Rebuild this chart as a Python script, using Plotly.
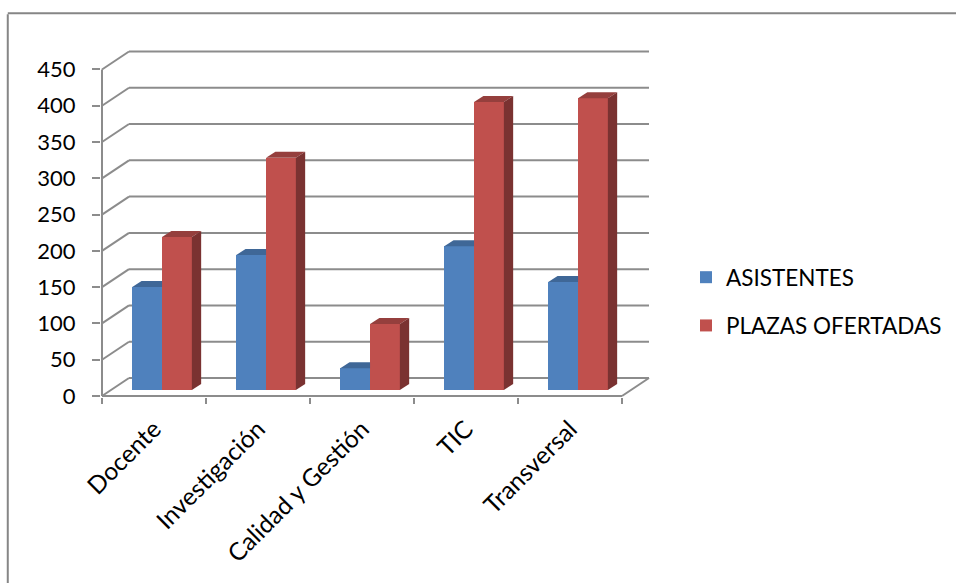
import plotly.graph_objects as go

categories = ["Docente", "Investigación", "Calidad y Gestión", "TIC", "Transversal"]
asistentes = [142, 186, 30, 198, 149]
plazas = [211, 320, 91, 397, 402]
y_ticks = [0, 50, 100, 150, 200, 250, 300, 350, 400, 450]

BLUE, BLUE_TOP = "#4F81BD", "#3F6797"
RED, RED_TOP, RED_SIDE = "#C0504D", "#953F3D", "#7A3231"
GRID = "#8C8C8C"
FONT = "Lato"
TEXT = "#000000"

# pixel geometry -> axis units
PX_X, PX_Y = 104.0, 0.7256
wall_dx, wall_dy = 27 / PX_X, 18 / PX_Y
depth_dx, depth_dy = 9.3 / PX_X, 6 / PX_Y
bar_w = 0.2865
blue_x0 = 0.291
red_x0 = blue_x0 + bar_w
n = len(categories)
xmin, xmax = -1 / PX_X, 549 / PX_X
ymin, ymax = -1 / PX_Y, 347 / PX_Y

fig = go.Figure()
pos = list(range(n))
fig.add_bar(name="ASISTENTES", x=[i + blue_x0 for i in pos], y=asistentes, base=[depth_dy] * n,
            width=bar_w, offset=0, marker=dict(color=BLUE, line_width=0), legendgroup="a")
fig.add_bar(name="PLAZAS OFERTADAS", x=[i + red_x0 for i in pos], y=plazas, base=[depth_dy] * n,
            width=bar_w, offset=0, marker=dict(color=RED, line_width=0), legendgroup="b")


def poly(xs, ys, color):
    fig.add_scatter(x=xs, y=ys, mode="lines", fill="toself", fillcolor=color,
                    line=dict(width=0, color=color), showlegend=False, hoverinfo="skip")


for i in pos:
    a = asistentes[i] + depth_dy
    x0 = i + blue_x0
    x1 = i + red_x0
    # blue top, hidden by the red bar past its left edge
    poly([x0, x0 + depth_dx, x1, x1, x0], [a, a + depth_dy, a + depth_dy, a, a], BLUE_TOP)
    p = plazas[i] + depth_dy
    x2 = x1 + bar_w
    poly([x1, x1 + depth_dx, x2 + depth_dx, x2, x1], [p, p + depth_dy, p + depth_dy, p, p], RED_TOP)
    poly([x2, x2 + depth_dx, x2 + depth_dx, x2, x2],
         [p, p + depth_dy, 2 * depth_dy, depth_dy, p], RED_SIDE)

shapes = []


def seg(x0, y0, x1, y1):
    shapes.append(dict(type="line", xref="x", yref="y", x0=x0, y0=y0, x1=x1, y1=y1,
                       layer="below", line=dict(color=GRID, width=2)))


for v in y_ticks:
    seg(0, v, wall_dx, v + wall_dy)
    seg(wall_dx, v + wall_dy, n + wall_dx, v + wall_dy)
seg(n, 0, n + wall_dx, wall_dy)
seg(0, 0, n, 0)
seg(0, 0, 0, y_ticks[-1])

# outer chart frame
for x0, y0, x1, y1 in [(-0.1695, 1.1, -0.1695, -1), (-0.1695, 1.103, 1.7, 1.103)]:
    shapes.append(dict(type="line", xref="paper", yref="paper", x0=x0, y0=y0, x1=x1, y1=y1,
                       layer="below", line=dict(color="#868686", width=2)))

fig.update_layout(
    width=956, height=583, autosize=False,
    margin=dict(l=101, r=305, t=49, b=186, pad=0, autoexpand=False),
    paper_bgcolor="white", plot_bgcolor="white",
    barmode="overlay", bargap=0,
    font=dict(family=FONT, size=20, color=TEXT),
    shapes=shapes,
    showlegend=True,
    legend=dict(x=1.0636, y=0.405, xanchor="left", yanchor="top",
                tracegroupgap=16, traceorder="grouped", bgcolor="rgba(0,0,0,0)",
                font=dict(family=FONT, size=22.5, color=TEXT)),
    xaxis=dict(range=[xmin, xmax], tickmode="array", tickvals=[i + 0.5 for i in pos], ticktext=categories,
               ticks="", tickangle=-45, showgrid=False, zeroline=False, showline=False, ticklabelstandoff=12,
               ticklabelshift=0,
               tickfont=dict(family=FONT, size=24.5, color=TEXT),
               minor=dict(tickmode="array", tickvals=list(range(n + 1)), ticks="outside", ticklen=6, tickwidth=2,
                          tickcolor=GRID, showgrid=False)),
    yaxis=dict(range=[ymin, ymax], tickmode="array", tickvals=y_ticks, ticktext=[str(v) for v in y_ticks],
               ticks="outside", ticklen=8, tickwidth=2, tickcolor=GRID, showgrid=False, zeroline=False,
               showline=False, ticklabelstandoff=12, tickfont=dict(family=FONT, size=22, color=TEXT)),
)

fig.write_html("out.html", config=dict(displayModeBar=False),
               post_script="document.body.style.margin='0';document.body.style.overflow='hidden';")
